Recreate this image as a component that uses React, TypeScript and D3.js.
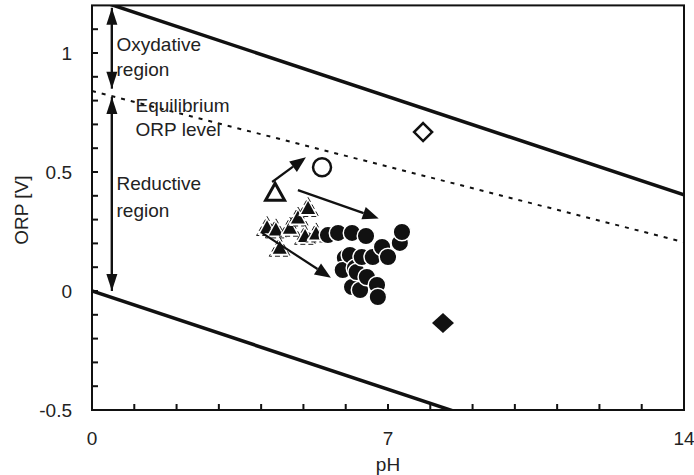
import React from "react";
import * as d3 from "d3";

const xTicks = [0, 7, 14];
const yTicks = [-0.5, 0, 0.5, 1];
const yTickLabels = ["-0.5", "0", "0.5", "1"];

// boundary lines [pH, ORP]
const upperLine: [number, number][] = [[0, 1.23], [14, 0.404]];
const lowerLine: [number, number][] = [[0, 0], [14, -0.826]];
const equilibriumLine: [number, number][] = [[0, 0.84], [14, 0.205]];

const openDiamond = [{ ph: 7.83, orp: 0.668 }];
const filledDiamond = [{ ph: 8.3, orp: -0.134 }];
const openCircle = [{ ph: 5.44, orp: 0.52 }];
const openTriangle = [{ ph: 4.33, orp: 0.41 }];
const filledTriangles = [
  { ph: 4.14, orp: 0.265 },
  { ph: 4.35, orp: 0.255 },
  { ph: 4.68, orp: 0.262 },
  { ph: 4.87, orp: 0.305 },
  { ph: 5.11, orp: 0.345 },
  { ph: 5.04, orp: 0.228 },
  { ph: 5.3, orp: 0.238 },
  { ph: 4.44, orp: 0.178 },
];
const filledCircles = [
  { ph: 5.58, orp: 0.235 },
  { ph: 5.82, orp: 0.244 },
  { ph: 5.98, orp: 0.139 },
  { ph: 5.93, orp: 0.088 },
  { ph: 6.15, orp: 0.244 },
  { ph: 6.1, orp: 0.151 },
  { ph: 6.22, orp: 0.097 },
  { ph: 6.15, orp: 0.017 },
  { ph: 6.26, orp: 0.08 },
  { ph: 6.34, orp: 0.004 },
  { ph: 6.38, orp: 0.143 },
  { ph: 6.48, orp: 0.231 },
  { ph: 6.5, orp: 0.059 },
  { ph: 6.64, orp: 0.143 },
  { ph: 6.74, orp: 0.025 },
  { ph: 6.76, orp: -0.025 },
  { ph: 6.86, orp: 0.185 },
  { ph: 7.0, orp: 0.143 },
  { ph: 7.28, orp: 0.202 },
  { ph: 7.33, orp: 0.248 },
];
// arrows [from, to] in data units
const dataArrows: [[number, number], [number, number]][] = [
  [[4.26, 0.458], [5.06, 0.562]],
  [[4.87, 0.424], [6.78, 0.305]],
  [[4.02, 0.244], [5.65, 0.056]],
];
const regionArrows: [[number, number], [number, number]][] = [
  [[0.47, 1.19], [0.47, 0.85]],
  [[0.47, 0.85], [0.47, 1.19]],
  [[0.47, 0.0], [0.47, 0.815]],
  [[0.47, 0.815], [0.47, 0.0]],
];
const labels = [
  { text: "Oxydative", ph: 0.58, orp: 1.035 },
  { text: "region", ph: 0.58, orp: 0.93 },
  { text: "Equilibrium", ph: 1.03, orp: 0.78 },
  { text: "ORP level", ph: 1.03, orp: 0.68 },
  { text: "Reductive", ph: 0.58, orp: 0.45 },
  { text: "region", ph: 0.58, orp: 0.34 },
];

const left = 92;
const right = 684;
const bottom = 410;
const x = d3.scaleLinear().domain([0, 14]).range([left, right]);
const y = d3.scaleLinear().domain([-0.5, 0]).range([bottom, 291]);
const top = y(1.2);
const font = "'Liberation Sans', Arial, sans-serif";
const fs = 19;

function Arrow({ from, to, head = 15, width = 12 }: any) {
  const x1 = x(from[0]), y1 = y(from[1]), x2 = x(to[0]), y2 = y(to[1]);
  const ang = Math.atan2(y2 - y1, x2 - x1);
  const bx = x2 - head * Math.cos(ang), by = y2 - head * Math.sin(ang);
  const px = Math.sin(ang) * width / 2, py = -Math.cos(ang) * width / 2;
  return (
    <g>
      <line x1={x1} y1={y1} x2={bx} y2={by} stroke="#111" strokeWidth={2.2} />
      <path d={`M${x2},${y2}L${bx + px},${by + py}L${bx - px},${by - py}Z`} fill="#111" />
    </g>
  );
}

function triPath(w: number, h: number) {
  return `M0,${-h * 0.6}L${w / 2},${h * 0.4}L${-w / 2},${h * 0.4}Z`;
}

export default function App() {
  const line = d3.line<[number, number]>().x((d) => x(d[0])).y((d) => y(d[1]));
  const tri = triPath(14, 13);
  const triOuter = triPath(21, 19);
  const triOpen = triPath(19, 17);
  const diamond = "M0,-9L9,0L0,9L-9,0Z";
  const diamondF = "M0,-10L11,0L0,10L-11,0Z";
  const yMinor = d3.range(-5, 12).map((i) => i / 10);
  const xMinor = d3.range(1, 14);
  return (
    <svg width={694} height={475} style={{ position: "absolute", left: 0, top: 0 }}>
      <defs>
        <clipPath id="plot">
          <rect x={left} y={top} width={right - left} height={bottom - top} />
        </clipPath>
      </defs>
      <rect width={694} height={475} fill="#fff" />
      <g clipPath="url(#plot)">
        <path d={line(upperLine) || ""} stroke="#111" strokeWidth={3.5} fill="none" />
        <path d={line(lowerLine) || ""} stroke="#111" strokeWidth={3.5} fill="none" />
        <path d={line(equilibriumLine) || ""} stroke="#111" strokeWidth={2} strokeDasharray="4,6" fill="none" />
      </g>
      {/* frame */}
      <rect x={left} y={top} width={right - left} height={bottom - top} fill="none" stroke="#111" strokeWidth={2} />
      {yMinor.map((v) => (
        <line key={"ym" + v} x1={left} x2={left + 6} y1={y(v)} y2={y(v)} stroke="#111" strokeWidth={2} />
      ))}
      {xMinor.map((v) => (
        <line key={"xm" + v} x1={x(v)} x2={x(v)} y1={bottom} y2={bottom - 6} stroke="#111" strokeWidth={2} />
      ))}
      {yTicks.map((v, i) => (
        <text key={"yt" + v} x={left - 20} y={y(v)} textAnchor="end" dominantBaseline="central" fontFamily={font} fontSize={fs} fill="#222">
          {yTickLabels[i]}
        </text>
      ))}
      {xTicks.map((v) => (
        <text key={"xt" + v} x={x(v)} y={438} textAnchor="middle" dominantBaseline="central" fontFamily={font} fontSize={fs} fill="#222">
          {v}
        </text>
      ))}
      <text x={x(7)} y={464} textAnchor="middle" dominantBaseline="central" fontFamily={font} fontSize={fs} fill="#222">pH</text>
      <text transform={`translate(21,${y(0.34)}) rotate(-90)`} textAnchor="middle" dominantBaseline="central" fontFamily={font} fontSize={fs} fill="#222">ORP [V]</text>

      {labels.map((l, i) => (
        <text key={"lb" + i} x={x(l.ph)} y={y(l.orp)} dominantBaseline="central" fontFamily={font} fontSize={fs} fill="#222">
          {l.text}
        </text>
      ))}
      {regionArrows.map((a, i) => (
        <Arrow key={"ra" + i} from={a[0]} to={a[1]} head={17} width={11} />
      ))}

      {filledTriangles.map((d, i) => (
        <g key={"ft" + i} transform={`translate(${x(d.ph)},${y(d.orp)})`}>
          <path d={triOuter} fill="#fff" stroke="#222" strokeWidth={1} strokeDasharray="5,3" />
          <path d={tri} fill="#111" />
        </g>
      ))}
      {openTriangle.map((d, i) => (
        <path key={"ot" + i} d={triOpen} transform={`translate(${x(d.ph)},${y(d.orp)})`} fill="#fff" stroke="#111" strokeWidth={3} />
      ))}
      {filledCircles.map((d, i) => (
        <circle key={"fc" + i} cx={x(d.ph)} cy={y(d.orp)} r={8.8} fill="#111" stroke="#fff" strokeWidth={1.5} />
      ))}
      {openCircle.map((d, i) => (
        <circle key={"oc" + i} cx={x(d.ph)} cy={y(d.orp)} r={9} fill="#fff" stroke="#111" strokeWidth={2.5} />
      ))}
      {openDiamond.map((d, i) => (
        <path key={"od" + i} d={diamond} transform={`translate(${x(d.ph)},${y(d.orp)})`} fill="#fff" stroke="#111" strokeWidth={2.5} />
      ))}
      {filledDiamond.map((d, i) => (
        <path key={"fd" + i} d={diamondF} transform={`translate(${x(d.ph)},${y(d.orp)})`} fill="#111" />
      ))}
      {dataArrows.map((a, i) => (
        <Arrow key={"da" + i} from={a[0]} to={a[1]} head={16} width={13} />
      ))}
    </svg>
  );
}
